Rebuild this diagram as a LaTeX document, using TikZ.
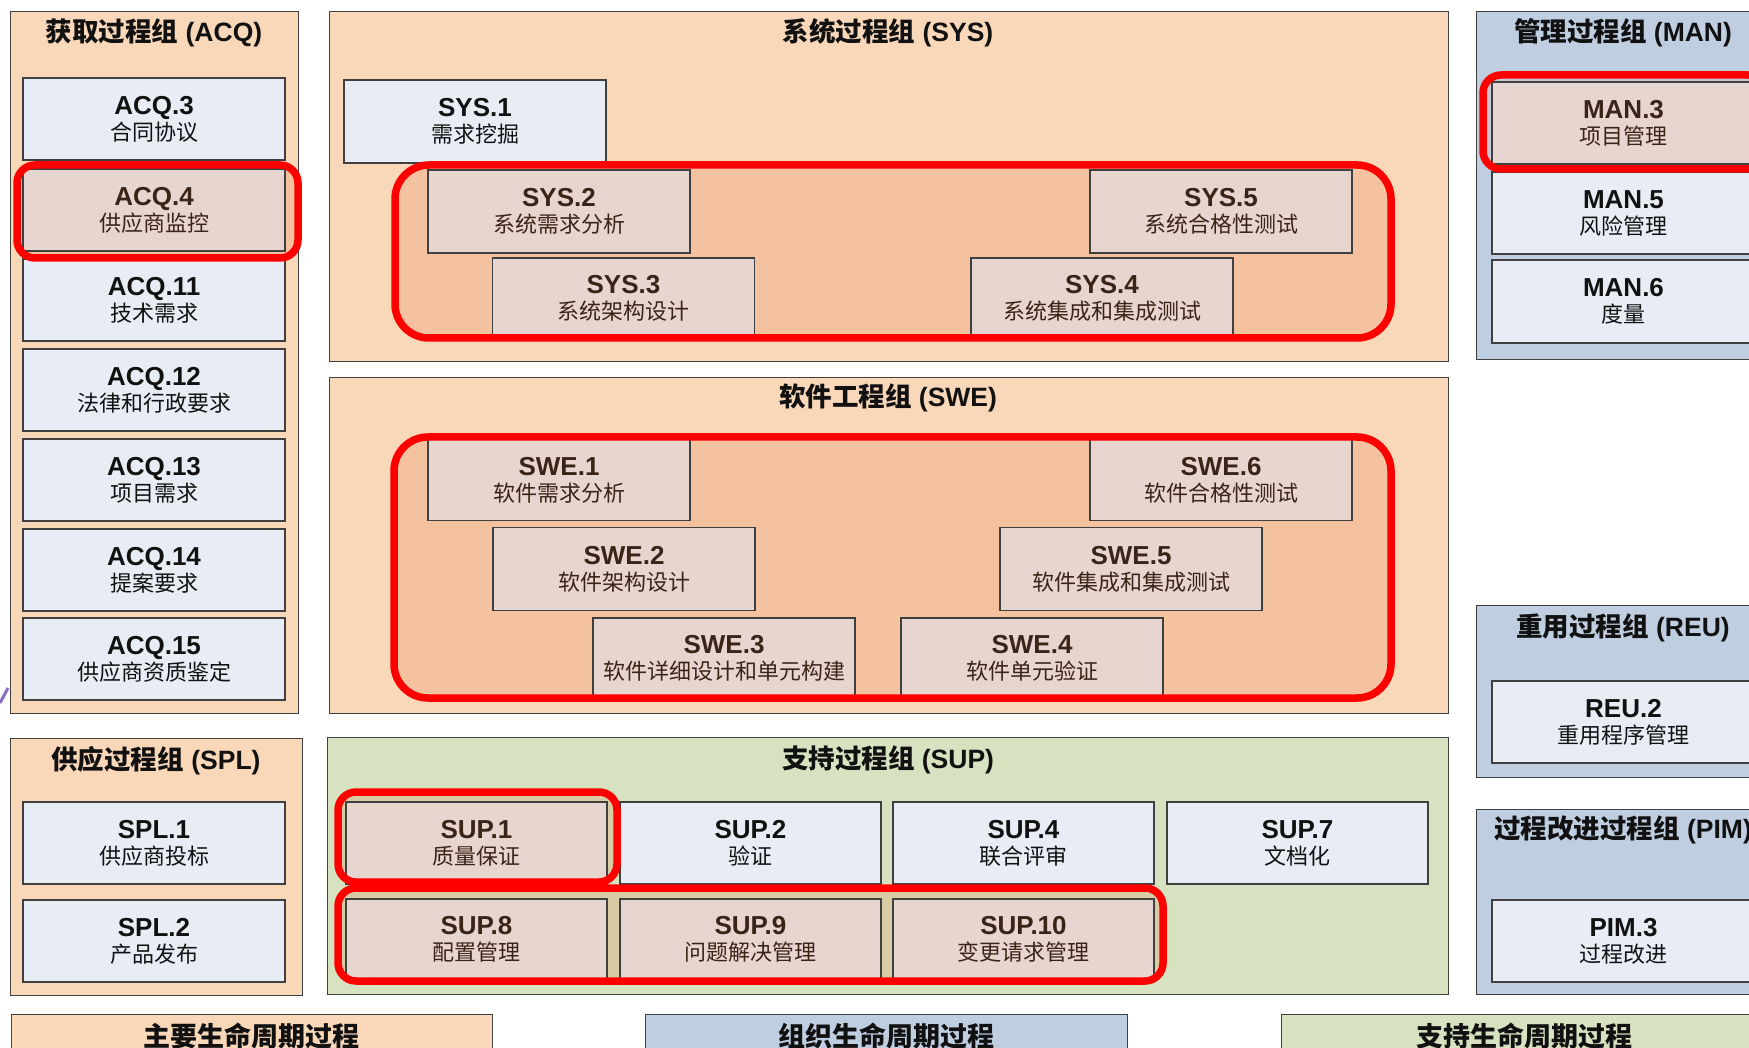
\documentclass[tikz,border=0pt]{standalone}
\usepackage{fontspec}
\setmainfont{Liberation Sans}
\newfontfamily\cjk{Noto Sans CJK SC}
\definecolor{peach}{HTML}{F9D7B9}
\definecolor{peachring}{HTML}{F5C2A0}
\definecolor{bluegrp}{HTML}{BFCFE1}
\definecolor{bluering}{HTML}{C8C6CE}
\definecolor{greengrp}{HTML}{D7E3C0}
\definecolor{greenring}{HTML}{D9CCA5}
\definecolor{plainc}{HTML}{E8EDF5}
\definecolor{hic}{HTML}{E7D5CF}
\definecolor{bordc}{HTML}{404040}
\definecolor{txtc}{HTML}{111111}
\definecolor{htxtc}{HTML}{3A2418}
\definecolor{ringred}{HTML}{FF0000}
\definecolor{stray}{HTML}{8A6FC0}
\newcommand\lbl[2]{{\fontsize{26}{26}\selectfont\bfseries #1}\\{\cjk #2}}
\newcommand\gt[2]{{\cjk\bfseries #1} \textbf{#2}}
\begin{document}
\begin{tikzpicture}[x=1pt,y=-1pt,
  grp/.style={draw=bordc, line width=1.3pt, anchor=north west, inner sep=0pt},
  pbox/.style={draw=bordc, line width=1.3pt, fill=plainc, minimum width=262pt, minimum height=82pt, align=center, inner sep=0pt, font=\fontsize{22}{26}\selectfont, text=txtc},
  hbox/.style={pbox, fill=hic, text=htxtc},
  gtitle/.style={font=\fontsize{26.5}{28}\selectfont, text=txtc, inner sep=0pt},
  ltitle/.style={font=\fontsize{27}{29}\selectfont\cjk\bfseries, text=txtc, inner sep=0pt},
  bigring/.style={draw=ringred, line width=7.5pt, rounded corners=34pt},
  smallring/.style={draw=ringred, line width=7.5pt, rounded corners=18pt}
]
\useasboundingbox (0,0) rectangle (1749,1048);
\clip (0,0) rectangle (1749,1048);
\fill[white] (0,0) rectangle (1749,1048);

% ---------- groups ----------
\node[grp, fill=peach, minimum width=288pt, minimum height=702pt] (acq) at (10,11) {};
\node[grp, fill=peach, minimum width=292pt, minimum height=257pt] (spl) at (10,738) {};
\node[grp, fill=peach, minimum width=1119pt, minimum height=350pt] (sys) at (329,11) {};
\node[grp, fill=peach, minimum width=1119pt, minimum height=336pt] (swe) at (329,377) {};
\node[grp, fill=greengrp, minimum width=1121pt, minimum height=257pt] (sup) at (327,737) {};
\node[grp, fill=bluegrp, minimum width=294pt, minimum height=348pt] (man) at (1476,11) {};
\node[grp, fill=bluegrp, minimum width=294pt, minimum height=172pt] (reu) at (1476,605) {};
\node[grp, fill=bluegrp, minimum width=294pt, minimum height=185pt] (pim) at (1476,809) {};
\node[grp, fill=peach, minimum width=481pt, minimum height=60pt] (lg1) at (11,1014) {};
\node[grp, fill=bluegrp, minimum width=482pt, minimum height=60pt] (lg2) at (645,1014) {};
\node[grp, fill=greengrp, minimum width=487pt, minimum height=60pt] (lg3) at (1281,1014) {};

% ---------- ring fills ----------
\fill[peachring, rounded corners=34pt] (395,165) rectangle (1391,338);
\fill[peachring, rounded corners=34pt] (394,437) rectangle (1391,698);
\fill[peachring, rounded corners=18pt] (17,165) rectangle (298,258);
\fill[bluering, rounded corners=18pt] (1483,75) rectangle (1766,169);
\fill[greenring, rounded corners=18pt] (338,792) rectangle (617,882);
\fill[greenring, rounded corners=18pt] (338,888) rectangle (1163,981);

% ---------- titles ----------
\node[gtitle] (tacq) at (154,33) {\gt{获取过程组}{(ACQ)}};
\node[gtitle] (tspl) at (156,761) {\gt{供应过程组}{(SPL)}};
\node[gtitle] (tsys) at (888,33) {\gt{系统过程组}{(SYS)}};
\node[gtitle] (tswe) at (888,398) {\gt{软件工程组}{(SWE)}};
\node[gtitle] (tsup) at (888,760) {\gt{支持过程组}{(SUP)}};
\node[gtitle] (tman) at (1623,33) {\gt{管理过程组}{(MAN)}};
\node[gtitle] (treu) at (1623,628) {\gt{重用过程组}{(REU)}};
\node[gtitle] (tpim) at (1623,830) {\gt{过程改进过程组}{(PIM)}};
\node[ltitle] (tlg1) at (251,1036) {主要生命周期过程};
\node[ltitle] (tlg2) at (886,1036) {组织生命周期过程};
\node[ltitle] (tlg3) at (1524,1036) {支持生命周期过程};

% ---------- ACQ ----------
\node[pbox] (acq3) at (154,119) {\lbl{ACQ.3}{合同协议}};
\node[hbox] (acq4) at (154,210) {\lbl{ACQ.4}{供应商监控}};
\node[pbox] (acq11) at (154,300) {\lbl{ACQ.11}{技术需求}};
\node[pbox] (acq12) at (154,390) {\lbl{ACQ.12}{法律和行政要求}};
\node[pbox] (acq13) at (154,480) {\lbl{ACQ.13}{项目需求}};
\node[pbox] (acq14) at (154,570) {\lbl{ACQ.14}{提案要求}};
\node[pbox] (acq15) at (154,659) {\lbl{ACQ.15}{供应商资质鉴定}};

% ---------- SPL ----------
\node[pbox] (spl1) at (154,843) {\lbl{SPL.1}{供应商投标}};
\node[pbox] (spl2) at (154,941) {\lbl{SPL.2}{产品发布}};

% ---------- SYS ----------
\node[pbox, minimum height=83pt] (sys1) at (475,121.5) {\lbl{SYS.1}{需求挖掘}};
\node[hbox, minimum height=83pt] (sys2) at (559,211.5) {\lbl{SYS.2}{系统需求分析}};
\node[hbox, minimum height=83pt] (sys5) at (1221,211.5) {\lbl{SYS.5}{系统合格性测试}};
\node[hbox, minimum height=80pt] (sys3) at (623.5,298) {\lbl{SYS.3}{系统架构设计}};
\node[hbox, minimum height=80pt] (sys4) at (1102,298) {\lbl{SYS.4}{系统集成和集成测试}};

% ---------- SWE ----------
\node[hbox, minimum height=81pt] (swe1) at (559,480) {\lbl{SWE.1}{软件需求分析}};
\node[hbox, minimum height=81pt] (swe6) at (1221,480) {\lbl{SWE.6}{软件合格性测试}};
\node[hbox, minimum height=83pt] (swe2) at (624,569) {\lbl{SWE.2}{软件架构设计}};
\node[hbox, minimum height=83pt] (swe5) at (1131,569) {\lbl{SWE.5}{软件集成和集成测试}};
\node[hbox, minimum height=80pt] (swe3) at (724,658) {\lbl{SWE.3}{软件详细设计和单元构建}};
\node[hbox, minimum height=80pt] (swe4) at (1032,658) {\lbl{SWE.4}{软件单元验证}};

% ---------- SUP ----------
\node[hbox, minimum width=261pt] (sup1) at (476.5,843) {\lbl{SUP.1}{质量保证}};
\node[pbox, minimum width=261pt] (sup2) at (750.5,843) {\lbl{SUP.2}{验证}};
\node[pbox, minimum width=261pt] (sup4) at (1023.5,843) {\lbl{SUP.4}{联合评审}};
\node[pbox, minimum width=261pt] (sup7) at (1297.5,843) {\lbl{SUP.7}{文档化}};
\node[hbox, minimum width=261pt, minimum height=80pt] (sup8) at (476.5,939) {\lbl{SUP.8}{配置管理}};
\node[hbox, minimum width=261pt, minimum height=80pt] (sup9) at (750.5,939) {\lbl{SUP.9}{问题解决管理}};
\node[hbox, minimum width=261pt, minimum height=80pt] (sup10) at (1023.5,939) {\lbl{SUP.10}{变更请求管理}};

% ---------- MAN / REU / PIM ----------
\node[hbox, minimum width=263pt] (man3) at (1623.5,123) {\lbl{MAN.3}{项目管理}};
\node[pbox, minimum width=263pt] (man5) at (1623.5,213) {\lbl{MAN.5}{风险管理}};
\node[pbox, minimum width=263pt, minimum height=83pt] (man6) at (1623.5,301.5) {\lbl{MAN.6}{度量}};
\node[pbox, minimum width=263pt] (reu2) at (1623.5,722) {\lbl{REU.2}{重用程序管理}};
\node[pbox, minimum width=263pt] (pim3) at (1623.5,941) {\lbl{PIM.3}{过程改进}};

% ---------- red rings ----------
\draw[bigring] (395,165) rectangle (1391,338);
\draw[bigring] (394,437) rectangle (1391,698);
\draw[smallring] (17,165) rectangle (298,258);
\draw[smallring] (1483,75) rectangle (1766,169);
\draw[smallring] (338,792) rectangle (617,882);
\draw[smallring] (338,888) rectangle (1163,981);

% stray mark at the left edge
\draw[stray, line width=3pt] (0,703) -- (8,688);
\end{tikzpicture}
\end{document}
